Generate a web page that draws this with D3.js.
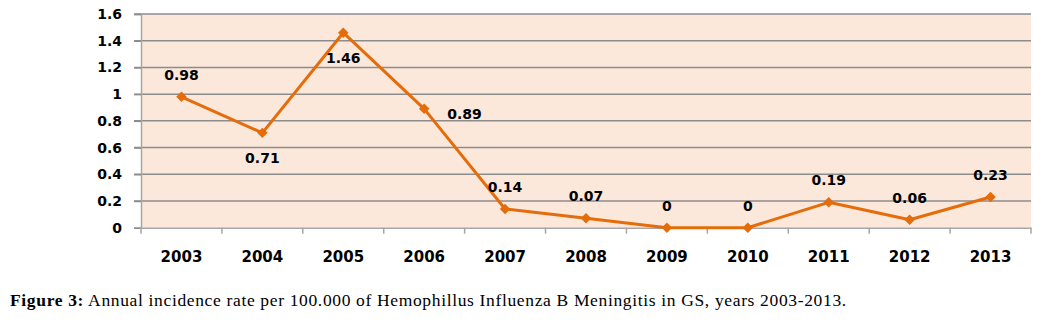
<!DOCTYPE html>
<html><head><meta charset="utf-8">
<script src="https://cdn.jsdelivr.net/npm/d3@7"></script>
<style>body{margin:0;background:#fff;} svg{display:block;}</style>
</head><body>
<svg id="c" width="1050" height="327"></svg>
<script>
const years = ["2003","2004","2005","2006","2007","2008","2009","2010","2011","2012","2013"];
const rates = [0.98,0.71,1.46,0.89,0.14,0.07,0,0,0.19,0.06,0.23];
const labelPos = ["above","below","below","right","above","above","above","above","above","above","above"];
const yTicks = [0,0.2,0.4,0.6,0.8,1,1.2,1.4,1.6];
const captionBold = "Figure 3:";
const captionText = " Annual incidence rate per 100.000 of Hemophillus Influenza B Meningitis in GS, years 2003-2013.";

const svg = d3.select("#c");
const L = 141, R = 1031, T = 14, B = 227.7;
const x = d3.scaleBand().domain(years).range([L, R]);
const y = d3.scaleLinear().domain([0, 1.6]).range([B, T]);

svg.append("rect").attr("x", L).attr("y", T).attr("width", R - L).attr("height", B - T).attr("fill", "#FCE8DA");

svg.append("g").selectAll("line").data(yTicks.filter(d => d > 0)).join("line")
  .attr("x1", L - 7).attr("x2", R).attr("y1", d => y(d)).attr("y2", d => y(d))
  .attr("stroke", "#8c8c8c").attr("stroke-width", 1.5);

const yAxis = svg.append("g").attr("transform", `translate(${L},0)`)
  .call(d3.axisLeft(y).tickValues(yTicks).tickFormat(d => String(d)).tickSize(7).tickPadding(12));
yAxis.select(".domain").attr("stroke", "#a6a6a6").attr("stroke-width", 1.5);
yAxis.selectAll(".tick line").attr("stroke", "#8c8c8c").attr("stroke-width", 1.5);
yAxis.selectAll("text").attr("font-family", "DejaVu Sans").attr("font-weight", "bold").attr("font-size", 14).attr("fill", "#000");

const xAxis = svg.append("g").attr("transform", `translate(0,${B})`)
  .call(d3.axisBottom(x).tickSize(0).tickPadding(24));
xAxis.select(".domain").attr("stroke", "#a6a6a6").attr("stroke-width", 1.5);
xAxis.selectAll("text").attr("font-family", "DejaVu Sans").attr("font-weight", "bold").attr("font-size", 15).attr("fill", "#000");
const bounds = years.map(d => x(d)).concat([R]);
svg.append("g").selectAll("line").data(bounds).join("line")
  .attr("x1", d => d).attr("x2", d => d).attr("y1", B).attr("y2", B + 6)
  .attr("stroke", "#a6a6a6").attr("stroke-width", 1.5);

const cx = d => x(d) + x.bandwidth() / 2;
const line = d3.line().x((d, i) => cx(years[i])).y(d => y(d));
svg.append("path").datum(rates).attr("d", line).attr("fill", "none")
  .attr("stroke", "#E46C0A").attr("stroke-width", 3).attr("stroke-linejoin", "round");

svg.append("g").selectAll("path").data(rates).join("path")
  .attr("d", d3.symbol().type(d3.symbolDiamond2).size(70))
  .attr("transform", (d, i) => `translate(${cx(years[i])},${y(d)})`)
  .attr("fill", "#E46C0A");

svg.append("g").selectAll("text").data(rates).join("text")
  .attr("x", (d, i) => labelPos[i] === "right" ? cx(years[i]) + 23 : cx(years[i]))
  .attr("y", (d, i) => labelPos[i] === "below" ? y(d) + 30 : labelPos[i] === "right" ? y(d) + 10 : y(d) - 17)
  .attr("text-anchor", (d, i) => labelPos[i] === "right" ? "start" : "middle")
  .attr("font-family", "DejaVu Sans").attr("font-weight", "bold").attr("font-size", 14).attr("fill", "#000")
  .text(d => String(d));

const cap = svg.append("text").attr("x", 10).attr("y", 306)
  .attr("font-family", "Liberation Serif").attr("font-size", 17.5).attr("letter-spacing", 0.65).attr("fill", "#000");
cap.append("tspan").attr("font-weight", "bold").text(captionBold);
cap.append("tspan").text(captionText);
</script>
</body></html>
